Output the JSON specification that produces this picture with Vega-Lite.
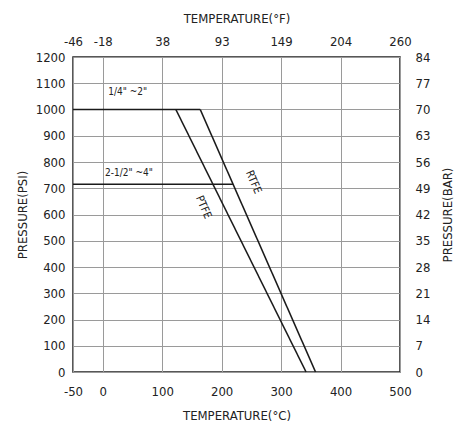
{
  "$schema": "https://vega.github.io/schema/vega-lite/v6.json",
  "autosize": "none",
  "width": 327,
  "height": 315,
  "padding": {"left": 73, "top": 57, "right": 58, "bottom": 56},
  "background": "white",
  "config": {
    "font": "DejaVu Sans Condensed, Liberation Sans Narrow, sans-serif",
    "view": {"stroke": "#222", "strokeWidth": 1.5},
    "axis": {
      "labelFont": "DejaVu Sans Condensed, Liberation Sans Narrow, sans-serif",
      "titleFont": "DejaVu Sans Condensed, Liberation Sans Narrow, sans-serif",
      "labelFontSize": 13,
      "titleFontSize": 13,
      "titleFontWeight": "normal",
      "labelColor": "#222",
      "titleColor": "#222",
      "labelFlush": false,
      "labelOverlap": false,
      "domain": false,
      "ticks": false,
      "gridColor": "#9a9a9a",
      "gridOpacity": 1,
      "gridWidth": 1
    }
  },
  "datasets": {
    "lines": [
      {"series": "1/4-2", "temp": -50, "psi": 1000},
      {"series": "1/4-2", "temp": 164, "psi": 1000},
      {"series": "PTFE", "temp": 123, "psi": 1000},
      {"series": "PTFE", "temp": 342, "psi": 0},
      {"series": "RTFE", "temp": 164, "psi": 1000},
      {"series": "RTFE", "temp": 358, "psi": 0},
      {"series": "2-1/2-4", "temp": -50, "psi": 715},
      {"series": "2-1/2-4", "temp": 219, "psi": 715}
    ],
    "sizeLabels": [
      {"label": "1/4\" ~2\"", "temp": 42, "psi": 1065},
      {"label": "2-1/2\" ~4\"", "temp": 44, "psi": 757}
    ],
    "matLabels": [
      {"label": "RTFE", "temp": 253, "psi": 723},
      {"label": "PTFE", "temp": 169, "psi": 627}
    ]
  },
  "resolve": {"axis": {"x": "independent", "y": "independent"}},
  "layer": [
    {
      "data": {"name": "lines"},
      "mark": {"type": "line", "color": "#1a1a1a", "strokeWidth": 1.6},
      "encoding": {
        "x": {
          "field": "temp", "type": "quantitative",
          "scale": {"domain": [-50, 500], "nice": false, "zero": false},
          "axis": {
            "orient": "bottom",
            "values": [-50, 0, 100, 200, 300, 400, 500],
            "labelExpr": "'' + datum.value",
            "labelPadding": 13,
            "title": "TEMPERATURE(°C)",
            "titlePadding": 11
          }
        },
        "y": {
          "field": "psi", "type": "quantitative",
          "scale": {"domain": [0, 1200], "nice": false},
          "axis": {
            "orient": "left",
            "values": [0, 100, 200, 300, 400, 500, 600, 700, 800, 900, 1000, 1100, 1200],
            "labelExpr": "'' + datum.value",
            "labelPadding": 8,
            "title": "PRESSURE(PSI)",
            "titlePadding": 6
          }
        },
        "detail": {"field": "series"}
      }
    },
    {
      "data": {"name": "sizeLabels"},
      "mark": {"type": "text", "fontSize": 10, "color": "#222"},
      "encoding": {
        "x": {
          "field": "temp", "type": "quantitative",
          "scale": {"domain": [-50, 500], "nice": false, "zero": false},
          "axis": {
            "orient": "top",
            "values": [-50, 0, 100, 200, 300, 400, 500],
            "labelExpr": "datum.value == -50 ? '-46' : datum.value == 0 ? '-18' : datum.value == 100 ? '38' : datum.value == 200 ? '93' : datum.value == 300 ? '149' : datum.value == 400 ? '204' : '260'",
            "labelPadding": 9,
            "grid": false,
            "title": "TEMPERATURE(°F)",
            "titlePadding": 10
          }
        },
        "y": {
          "field": "psi", "type": "quantitative",
          "scale": {"domain": [0, 1200], "nice": false},
          "axis": {
            "orient": "right",
            "values": [0, 100, 200, 300, 400, 500, 600, 700, 800, 900, 1000, 1100, 1200],
            "labelExpr": "'' + round(datum.value * 0.07)",
            "labelPadding": 15,
            "grid": false,
            "title": "PRESSURE(BAR)",
            "titleAngle": -90,
            "titlePadding": 25
          }
        },
        "text": {"field": "label"}
      }
    },
    {
      "data": {"name": "matLabels"},
      "mark": {"type": "text", "fontSize": 11, "color": "#222", "angle": 67},
      "encoding": {
        "x": {"field": "temp", "type": "quantitative", "scale": {"domain": [-50, 500], "nice": false, "zero": false}, "axis": null},
        "y": {"field": "psi", "type": "quantitative", "scale": {"domain": [0, 1200], "nice": false}, "axis": null},
        "text": {"field": "label"}
      }
    }
  ]
}
